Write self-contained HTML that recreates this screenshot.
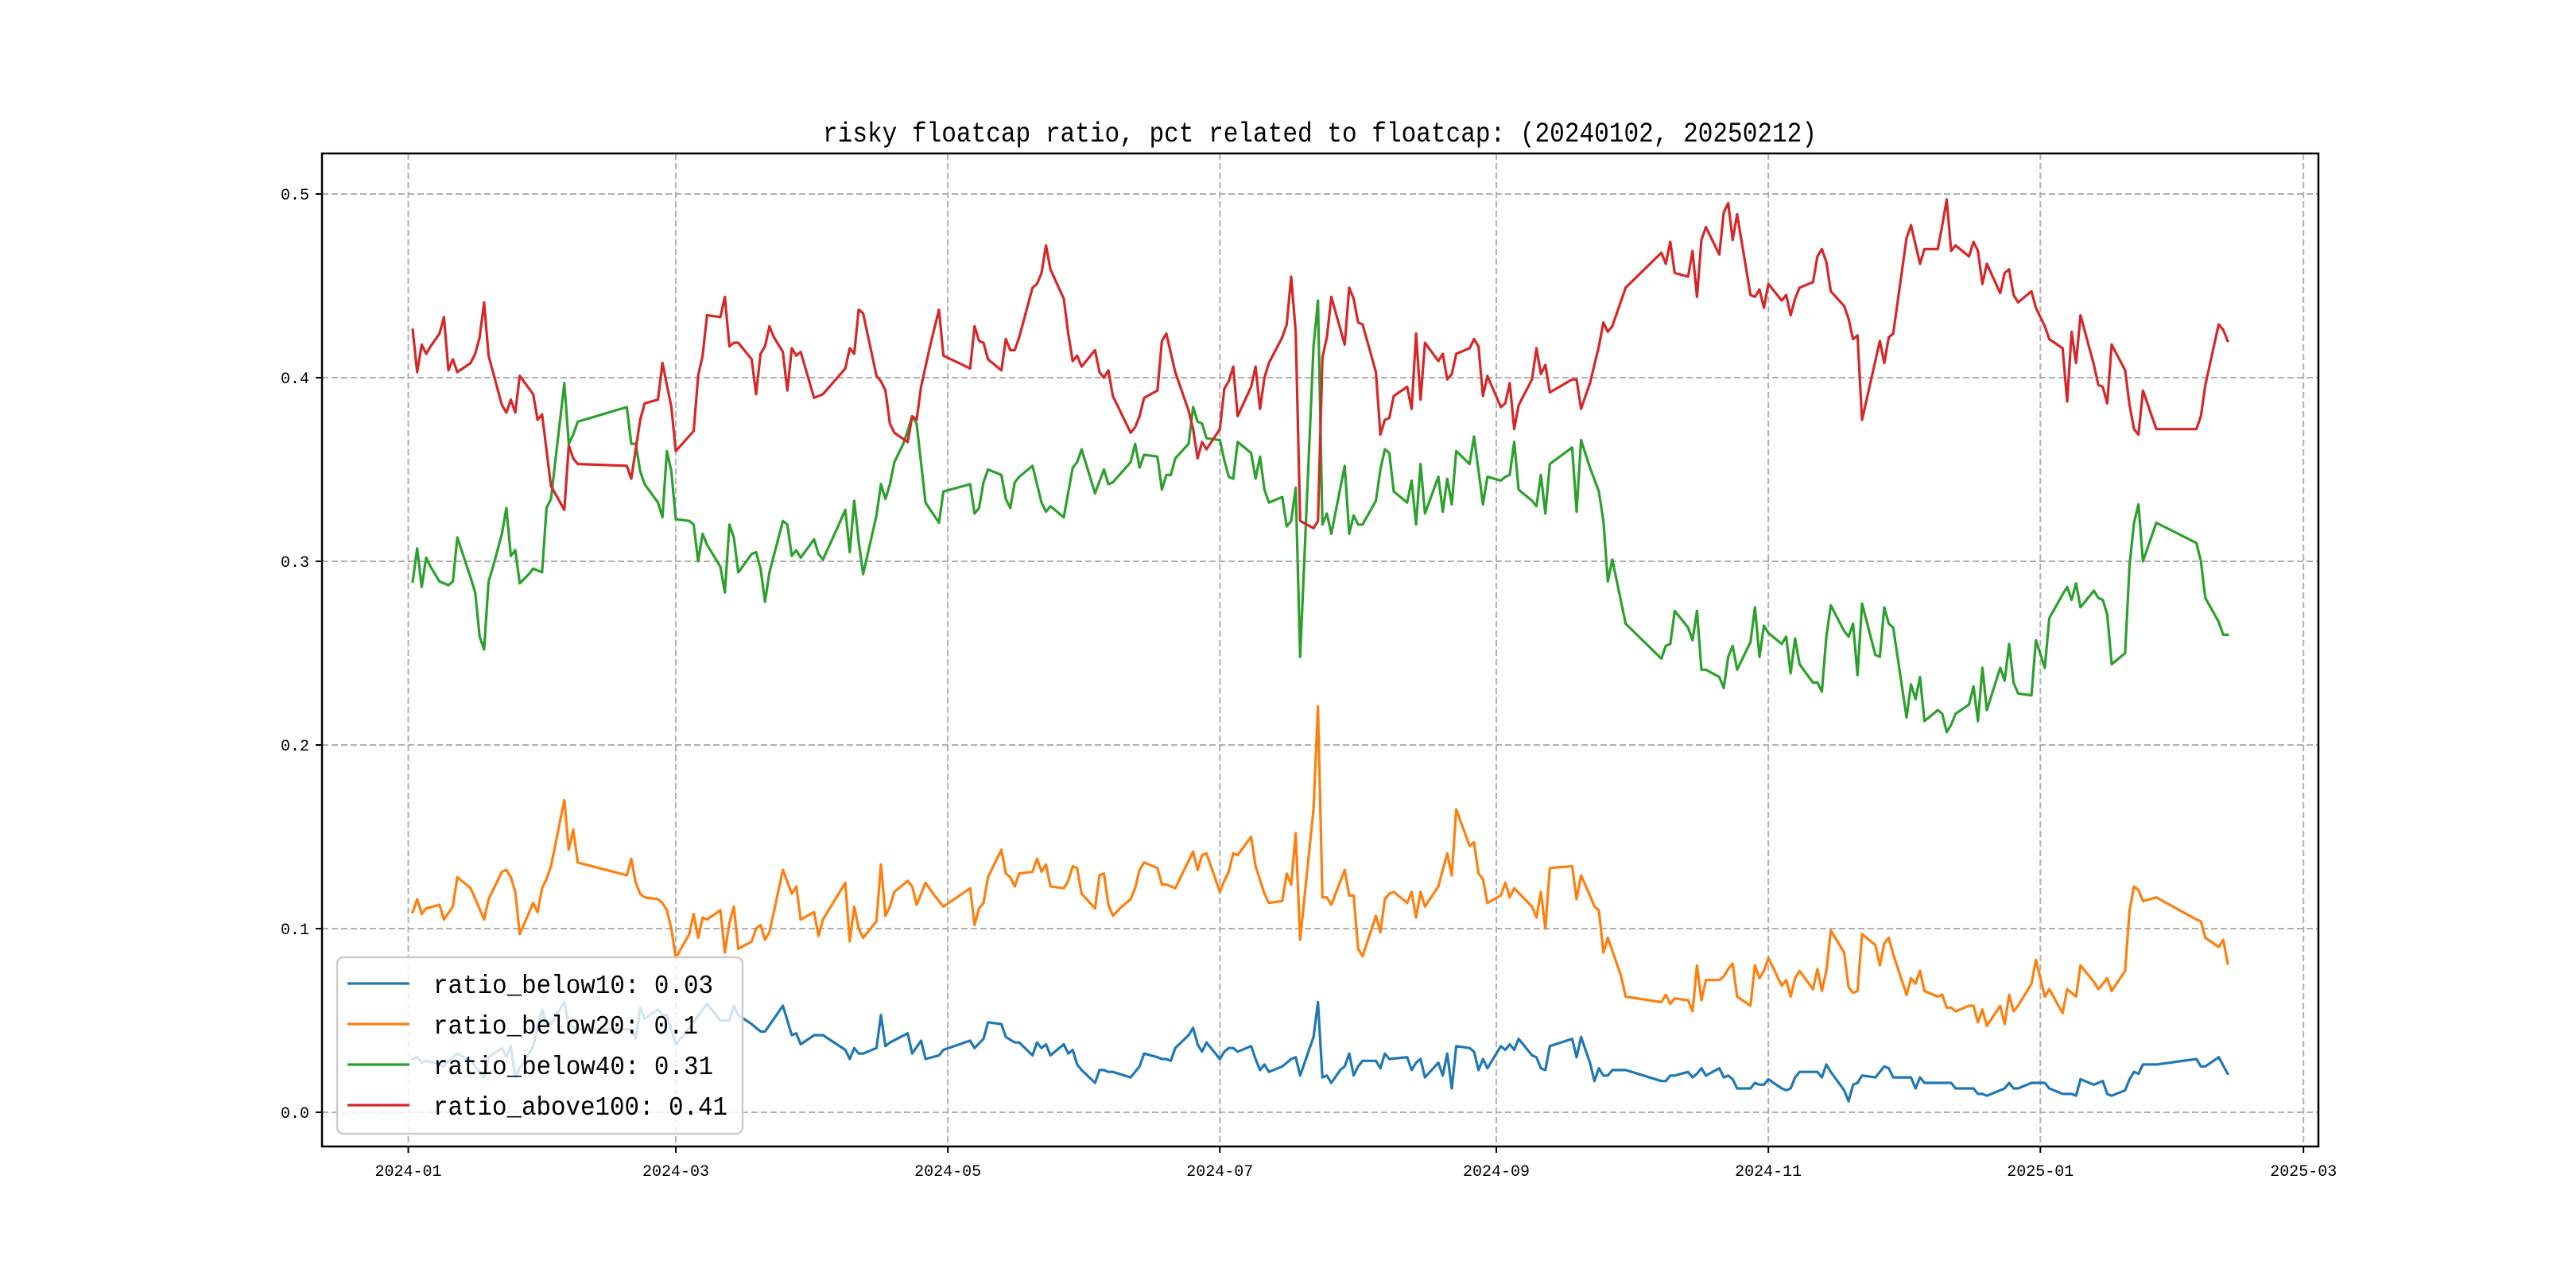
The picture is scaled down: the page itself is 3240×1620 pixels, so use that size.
<!DOCTYPE html>
<html><head><meta charset="utf-8"><title>risky floatcap ratio</title>
<style>
html,body{margin:0;padding:0;background:#fff;}
svg{display:block;}
text{font-family:"Liberation Mono","DejaVu Sans Mono",monospace;fill:#000;}
</style></head>
<body>
<svg id="chart" width="3240" height="1620" viewBox="0 0 3240 1620" xmlns="http://www.w3.org/2000/svg">
<rect x="0" y="0" width="3240" height="1620" fill="#fff"/>
<text x="1660" y="178" font-size="35" text-anchor="middle" textLength="1250" lengthAdjust="spacingAndGlyphs">risky floatcap ratio, pct related to floatcap: (20240102, 20250212)</text>
<g id="grid"></g>
<g id="series"></g>
<rect x="405" y="193" width="2511" height="1249" fill="none" stroke="#000" stroke-width="2.5"/>
<g id="axes"></g>
<g id="legend"></g>
</svg>
<script>
// ---- data (day = days since 2024-01-01) ----
const xTickDays = [0, 60, 121, 182, 244, 305, 366, 425];
const xTickLabels = ["2024-01","2024-03","2024-05","2024-07","2024-09","2024-11","2025-01","2025-03"];
const yTicks = [0.0, 0.1, 0.2, 0.3, 0.4, 0.5];
const yTickLabels = ["0.0","0.1","0.2","0.3","0.4","0.5"];
const seriesNames = ["ratio_below10: 0.03","ratio_below20: 0.1","ratio_below40: 0.31","ratio_above100: 0.41"];
const seriesColors = ["#1f77b4","#ff7f0e","#2ca02c","#d62728"];

const above100Days = [1,2,3,4,5,7,8,9,10,11,14,15,16,17,18,21,22,23,24,25,28,29,30,32,35,36,37,38,49,50,52,53,56,57,59,60,64,65,66,67,70,71,72,73,74,77,78,79,80,81,82,84,85,86,87,88,91,93,98,99,100,101,102,105,106,107,108,109,112,113,114,115,117,119,120,126,127,128,129,130,133,134,135,136,137,138,140,141,142,143,
144,147,148,149,150,151,154,155,156,157,158,160,162,163,164,165,168,169,170,172,175,176,177,178,179,182,183,184,185,186,189,190,191,192,193,196,197,198,199,200,203,204,205,206,207,210,211,212,213,214,217,218,219,220,221,224,225,226,227,228,231,232,233,234,235,238,239,240,241,242,245,246,247,248,249,252,253,254,255,256,261,262,263,265,267,268,269,270,273,281,282,283,
284,287,288,289,290,291,294,295,296,297,298,301,302,303,304,305,308,309,310,311,312,315,316,317,318,319,322,323,324,325,326,330,331,332,333,336,337,339,340,343,344,345,346,347,350,351,352,353,354,357,358,359,360,361,364,365,367,368,371,372,373,374,375,378,379,380,381,382,385,386,387,388,389,392,401,402,403,406,407,408];
const above100Vals = [.426,.403,.418,.413,.417,.424,.433,.404,.41,.403,.408,.413,.422,.441,.412,.385,.381,.388,.381,.401,.391,.377,.38,.341,.328,.363,.356,.353,.352,.345,.377,.386,.388,.408,.384,.36,.371,.401,.412,.434,.433,.444,.417,.419,.419,.41,.391,.413,.417,.428,.422,.414,.393,.416,.412,.414,.389,.391,.405,.416,.413,.437,.435,.401,.398,.393,.375,.37,.365,.379,.377,.395,.417,.437,.412,.405,.428,.42,.419,.41,.404,.421,.415,.415,.422,.431,.449,.451,.457,.472,
.459,.443,.424,.409,.412,.406,.415,.403,.40,.404,.39,.38,.37,.373,.379,.389,.393,.42,.424,.403,.382,.372,.356,.365,.361,.372,.394,.398,.406,.379,.395,.406,.383,.40,.408,.422,.429,.455,.425,.322,.318,.322,.411,.422,.444,.418,.449,.443,.43,.429,.403,.369,.377,.378,.39,.395,.383,.424,.388,.419,.409,.413,.399,.402,.413,.416,.421,.417,.39,.401,.384,.386,.397,.372,.385,.399,.416,.402,.407,.392,.399,.399,.383,.397,.417,.43,.425,.428,.449,.468,.462,.474,
.457,.455,.469,.444,.475,.482,.467,.49,.495,.475,.489,.445,.444,.448,.438,.451,.442,.445,.434,.443,.449,.452,.466,.47,.463,.447,.439,.432,.421,.423,.377,.42,.408,.422,.424,.476,.483,.462,.47,.47,.483,.497,.469,.472,.466,.474,.469,.451,.462,.446,.457,.459,.445,.441,.447,.438,.428,.421,.416,.387,.425,.408,.434,.407,.396,.395,.386,.418,.404,.385,.372,.369,.393,.372,.372,.379,.396,.429,.426,.42];

const below40Days = [1,2,3,4,5,7,9,10,11,14,15,16,17,18,19,21,22,23,24,25,27,28,30,31,32,35,36,37,38,49,50,51,52,53,56,57,58,59,60,63,64,65,66,67,70,71,72,73,74,77,78,79,80,81,84,85,86,87,88,91,92,93,96,98,99,100,101,102,105,106,107,108,109,111,112,113,114,116,119,120,126,127,128,129,130,133,134,135,136,137,140,141,142,143,
144,147,149,150,151,154,156,157,158,162,163,164,165,168,169,170,171,172,175,176,177,178,179,182,183,184,185,186,189,190,191,192,193,196,197,198,199,200,203,204,205,206,207,210,211,212,213,214,217,218,219,220,221,224,225,226,227,228,231,232,233,234,235,238,239,241,242,245,246,247,248,249,252,253,254,255,256,261,262,263,265,267,268,269,270,273,281,282,283,
284,287,288,289,290,291,294,295,296,297,298,301,302,303,304,305,308,309,310,311,312,315,316,317,318,319,322,323,324,325,326,329,330,331,332,333,336,337,338,339,340,343,344,345,346,347,350,351,352,353,354,357,358,359,360,361,364,365,367,368,371,372,373,374,375,378,379,380,381,382,385,386,387,388,389,392,401,402,403,406,407,408];
const below40Vals = [.289,.307,.286,.302,.297,.289,.287,.289,.313,.291,.283,.259,.252,.289,.297,.315,.329,.303,.306,.288,.293,.296,.294,.329,.334,.397,.364,.369,.376,.384,.364,.364,.349,.342,.332,.324,.36,.349,.323,.322,.32,.30,.315,.309,.297,.283,.32,.313,.294,.304,.305,.296,.278,.294,.322,.32,.303,.306,.302,.312,.304,.301,.317,.328,.305,.333,.311,.293,.325,.342,.334,.342,.354,.364,.371,.379,.375,.332,.321,.338,.342,.326,.329,.343,.35,.347,.334,.329,.343,.346,.352,.342,.332,.327,
.33,.324,.351,.354,.361,.337,.35,.342,.343,.354,.364,.351,.358,.357,.339,.347,.347,.356,.364,.384,.376,.375,.367,.366,.355,.346,.345,.365,.359,.345,.357,.339,.332,.335,.319,.322,.34,.248,.417,.442,.32,.326,.315,.352,.315,.325,.32,.32,.333,.35,.361,.359,.338,.332,.344,.32,.353,.326,.346,.327,.345,.331,.36,.353,.368,.331,.346,.344,.346,.347,.365,.339,.333,.33,.347,.326,.353,.362,.327,.366,.351,.338,.322,.289,.301,.266,.247,.254,.255,
.273,.264,.257,.273,.241,.241,.237,.231,.248,.254,.241,.256,.275,.248,.265,.261,.255,.259,.239,.258,.244,.234,.234,.229,.259,.276,.262,.259,.266,.238,.277,.249,.248,.275,.266,.264,.215,.233,.225,.237,.213,.219,.217,.207,.211,.217,.222,.232,.213,.242,.219,.242,.235,.255,.234,.228,.227,.257,.242,.269,.282,.286,.279,.288,.275,.284,.28,.279,.271,.244,.25,.298,.321,.331,.30,.321,.31,.30,.28,.267,.26,.26];

const below20Days = [1,2,3,4,7,8,10,11,14,17,18,21,22,23,24,25,28,29,30,31,32,35,36,37,38,49,50,51,52,53,56,57,58,59,60,63,64,65,66,67,70,71,72,73,74,77,78,79,80,81,84,86,87,88,91,92,93,98,99,100,101,102,105,106,107,108,109,112,113,114,116,118,120,126,127,128,129,130,133,134,135,136,137,140,141,142,143,
144,147,148,149,150,151,154,155,156,157,158,160,162,163,164,165,168,169,170,172,176,177,178,179,182,183,184,185,186,189,190,192,193,196,197,198,199,200,203,204,205,206,207,210,211,212,213,214,217,218,219,220,221,224,225,226,227,228,231,233,234,235,238,239,240,241,242,245,246,247,248,252,253,254,255,256,261,262,263,265,266,267,268,269,272,273,281,282,283,
284,287,288,289,290,291,294,295,296,297,298,301,302,303,304,305,308,309,310,311,312,315,316,317,318,319,322,323,324,325,326,329,330,331,332,333,336,337,338,339,340,343,344,345,346,347,350,351,352,353,354,357,358,359,360,361,364,365,367,368,371,372,374,375,378,379,381,382,385,386,387,388,389,392,401,402,403,406,407,408];
const below20Vals = [.109,.116,.108,.111,.113,.105,.112,.128,.122,.105,.116,.131,.132,.128,.12,.097,.114,.109,.122,.127,.134,.17,.143,.154,.136,.129,.138,.125,.119,.117,.116,.114,.11,.10,.084,.097,.108,.095,.106,.105,.11,.087,.103,.112,.089,.093,.10,.102,.094,.098,.132,.119,.123,.105,.109,.096,.105,.125,.093,.112,.10,.095,.104,.135,.107,.112,.12,.126,.123,.113,.125,.118,.112,.122,.102,.111,.114,.128,.143,.13,.128,.123,.13,.131,.138,.131,.135,
.123,.122,.126,.134,.133,.119,.111,.129,.13,.113,.107,.112,.116,.122,.132,.136,.133,.124,.124,.122,.142,.132,.14,.141,.12,.126,.131,.141,.14,.15,.134,.119,.114,.115,.13,.124,.152,.094,.165,.221,.117,.117,.113,.132,.118,.118,.089,.085,.107,.098,.116,.119,.12,.114,.12,.106,.12,.112,.123,.141,.129,.165,.145,.147,.13,.127,.114,.118,.125,.117,.122,.112,.106,.12,.10,.133,.134,.116,.129,.118,.112,.11,.087,.095,.074,.063,.06,.064,.059,
.062,.061,.055,.08,.061,.072,.072,.074,.078,.081,.063,.058,.08,.073,.077,.084,.069,.072,.063,.073,.077,.067,.078,.066,.077,.099,.087,.068,.065,.066,.097,.091,.08,.092,.095,.086,.064,.073,.07,.077,.066,.063,.064,.057,.057,.055,.058,.058,.049,.056,.047,.058,.048,.064,.055,.058,.07,.083,.063,.067,.054,.067,.063,.08,.071,.067,.073,.066,.077,.11,.123,.121,.115,.117,.105,.104,.095,.09,.094,.081];

const below10Days = [1,2,3,4,7,8,9,11,14,17,18,21,22,23,24,25,28,30,31,32,35,36,38,49,50,51,52,53,56,57,58,60,63,67,70,72,73,74,77,79,80,84,86,87,88,91,93,98,99,100,101,102,105,106,107,108,112,113,115,116,119,120,126,127,129,130,133,134,136,137,140,141,142,143,
144,147,148,149,150,151,154,155,156,157,158,162,164,165,168,169,170,171,172,175,176,177,178,179,182,183,184,185,186,189,190,191,192,193,196,198,199,200,202,203,204,205,206,207,209,210,211,212,213,214,217,218,219,220,224,225,226,227,228,231,232,233,234,235,238,239,240,241,242,245,246,247,248,249,252,253,254,255,256,261,262,263,265,266,267,268,269,270,273,281,282,283,
284,287,288,289,290,291,294,295,296,297,298,301,302,303,304,305,308,309,310,311,312,316,317,318,319,322,323,324,325,326,329,331,332,333,337,338,339,340,346,347,351,352,353,354,358,359,360,361,364,367,368,371,373,374,375,378,380,381,382,385,386,387,388,389,392,401,402,403,406,408];
const below10Vals = [.029,.03,.027,.028,.026,.025,.028,.032,.028,.019,.03,.035,.03,.036,.019,.024,.036,.056,.048,.048,.06,.048,.045,.045,.045,.04,.057,.051,.056,.053,.053,.037,.046,.059,.05,.05,.058,.053,.048,.044,.044,.058,.042,.043,.037,.042,.042,.034,.029,.035,.032,.032,.035,.053,.036,.038,.043,.032,.039,.029,.031,.034,.039,.035,.04,.049,.048,.041,.038,.038,.031,.038,.035,.037,
.031,.037,.032,.034,.026,.023,.016,.023,.023,.022,.022,.019,.025,.032,.03,.029,.029,.028,.035,.042,.046,.037,.033,.038,.029,.033,.035,.035,.033,.036,.029,.023,.026,.022,.025,.029,.03,.02,.034,.041,.06,.019,.02,.016,.023,.025,.032,.02,.025,.028,.028,.024,.032,.029,.03,.023,.027,.029,.019,.027,.02,.032,.013,.036,.035,.033,.023,.029,.024,.036,.034,.037,.034,.04,.031,.03,.024,.023,.036,.04,.03,.041,.027,.017,.024,.02,.02,.023,.023,.017,.017,.02,
.02,.022,.019,.021,.024,.02,.024,.019,.02,.018,.013,.013,.016,.015,.015,.018,.013,.012,.013,.019,.022,.022,.019,.026,.022,.012,.006,.015,.016,.02,.019,.025,.024,.019,.019,.013,.019,.016,.016,.013,.013,.01,.01,.009,.013,.016,.013,.013,.016,.016,.013,.01,.01,.009,.018,.015,.017,.01,.009,.012,.018,.022,.021,.026,.026,.029,.025,.025,.03,.021];

// ---- axes ----
const AX = {left:405, right:2916, top:193, bottom:1442};
const dMin = 1 - 0.05*407, dMax = 408 + 0.05*407;
function xScale(d){ return AX.left + (d - dMin) / (dMax - dMin) * (AX.right - AX.left); }
function yScale(v){ return 1399 - v * 2310; }

const NS = "http://www.w3.org/2000/svg";
function mk(tag, attrs, parent){
  const el = document.createElementNS(NS, tag);
  for (const k in attrs) el.setAttribute(k, attrs[k]);
  parent.appendChild(el);
  return el;
}
const grid = document.getElementById('grid');
const axes = document.getElementById('axes');
const seriesG = document.getElementById('series');
const legend = document.getElementById('legend');

xTickDays.forEach((d, i) => {
  const x = xScale(d);
  const gl = mk('line', {x1:x, x2:x, y1:AX.top, y2:AX.bottom, stroke:'#b0b0b0', 'stroke-width':2, 'stroke-dasharray':'8,4'}, grid);
  
  
  const tk = mk('line', {x1:x, x2:x, y1:AX.bottom, y2:AX.bottom+8, stroke:'#000', 'stroke-width':2}, axes);
  
  
  const t = mk('text', {x:x, y:AX.bottom+37, 'font-size':20, 'text-anchor':'middle'}, axes);
  t.textContent = xTickLabels[i];
  
  
});
yTicks.forEach((v, i) => {
  const y = yScale(v);
  const gl = mk('line', {x1:AX.left, x2:AX.right, y1:y, y2:y, stroke:'#b0b0b0', 'stroke-width':2, 'stroke-dasharray':'8,4'}, grid);
  
  
  const tk = mk('line', {x1:AX.left-8, x2:AX.left, y1:y, y2:y, stroke:'#000', 'stroke-width':2}, axes);
  
  
  const t = mk('text', {x:AX.left-16, y:y+7, 'font-size':20, 'text-anchor':'end'}, axes);
  t.textContent = yTickLabels[i];
  
  
});

const allDays = [below10Days, below20Days, below40Days, above100Days];
const allVals = [below10Vals, below20Vals, below40Vals, above100Vals];
const lineNames = ['line-ratio-below10','line-ratio-below20','line-ratio-below40','line-ratio-above100'];
allDays.forEach((days, s) => {
  const vals = allVals[s];
  const n = Math.min(days.length, vals.length);
  let p = '';
  for (let i = 0; i < n; i++) p += (i ? 'L' : 'M') + xScale(days[i]).toFixed(1) + ' ' + yScale(vals[i]).toFixed(1);
  const path = mk('path', {d:p, fill:'none', stroke:seriesColors[s], 'stroke-width':3.2, 'stroke-linejoin':'round', 'stroke-linecap':'square'}, seriesG);
  
  
});

// ---- legend ----
const box = mk('rect', {x:424, y:1204, width:510, height:222, rx:8, ry:8, fill:'#fff', 'fill-opacity':0.8, stroke:'#cccccc', 'stroke-width':2.5}, legend);


seriesNames.forEach((name, i) => {
  const y = 1237 + i * 51;
  const ln = mk('line', {x1:437, x2:515, y1:y, y2:y, stroke:seriesColors[i], 'stroke-width':3.2}, legend);
  
  
  const t = mk('text', {x:545, y:y+12, 'font-size':33, textLength:(name.length*18.5).toFixed(0), lengthAdjust:'spacingAndGlyphs'}, legend);
  t.textContent = name;
  
  
});
</script>
</body></html>
